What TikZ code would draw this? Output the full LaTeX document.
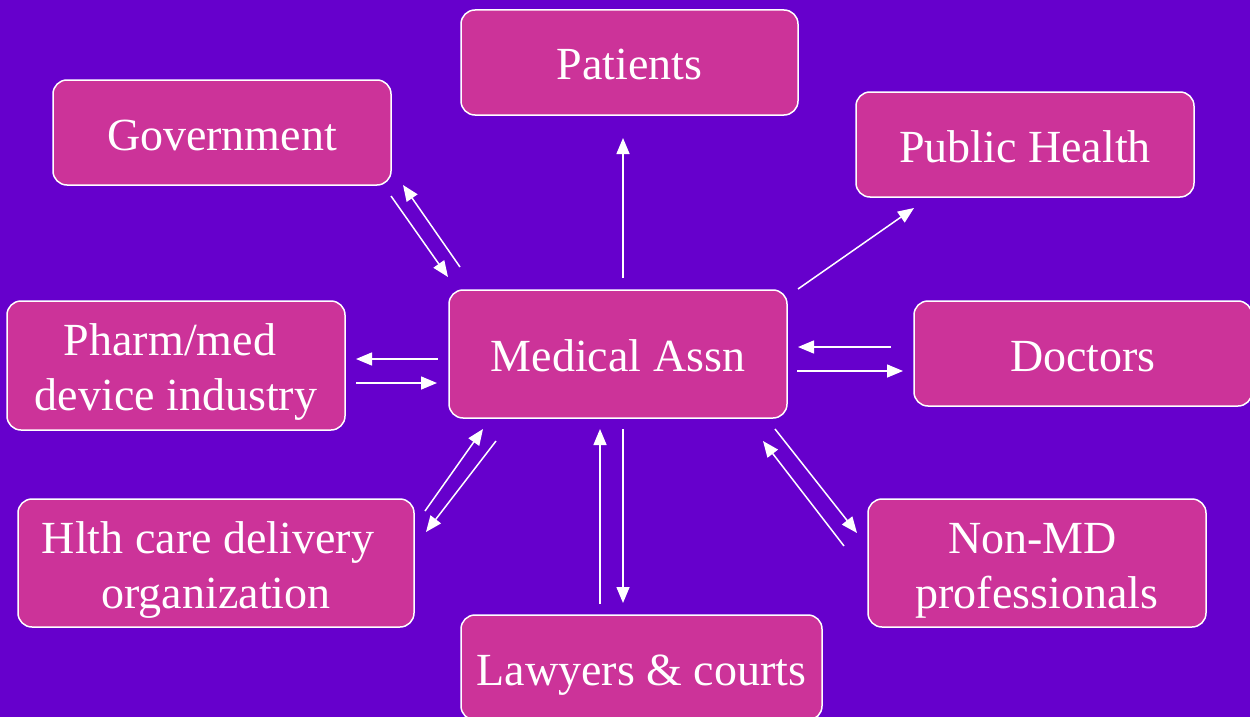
\documentclass[tikz,border=0pt]{standalone}
\usepackage{fontspec}
\setmainfont{Liberation Serif}
\usetikzlibrary{arrows.meta}
\definecolor{bgpurple}{HTML}{6600CC}
\definecolor{boxpink}{HTML}{CC3399}
\newcommand\onestrut{\rule[-12pt]{0pt}{59pt}}
\newcommand\topstrut{\rule{0pt}{47pt}}
\newcommand\botstrut{\rule[-12pt]{0pt}{12pt}}
\newcommand\padright[1]{\rule{#1}{0pt}}
\begin{document}
\begin{tikzpicture}[x=1pt,y=-1pt,
  boxnode/.style={draw=white,line width=1.5pt,fill=boxpink,rounded corners=14pt,
    text=white,align=center,inner sep=0pt,font=\fontsize{46}{55}\selectfont},
  conn/.style={draw=white,line width=1.5pt,-{Triangle[length=16pt,width=13pt]}}]
\useasboundingbox (0,0) rectangle (1250,717);
\fill[bgpurple] (0,0) rectangle (1250,717);
\node[boxnode,minimum width=337pt,minimum height=105pt] (pat) at (629.5,62.5) {\onestrut Patients};
\node[boxnode,minimum width=338pt,minimum height=105pt] (gov) at (222,132.5) {\onestrut Government};
\node[boxnode,minimum width=338pt,minimum height=105pt] (ph) at (1025,144.5) {\onestrut Public Health};
\node[boxnode,minimum width=338pt,minimum height=129pt] (pharm) at (176,365.5) {\topstrut Pharm/med\padright{12pt}\\device industry\botstrut};
\node[boxnode,minimum width=338pt,minimum height=128pt] (ma) at (618,354) {\onestrut Medical Assn};
\node[boxnode,minimum width=338pt,minimum height=105pt] (doc) at (1083,353.5) {\onestrut Doctors};
\node[boxnode,minimum width=396pt,minimum height=128pt] (hlth) at (216,563) {\topstrut Hlth care delivery\padright{16pt}\\organization\botstrut};
\node[boxnode,minimum width=338pt,minimum height=128pt] (nonmd) at (1037,563) {\topstrut Non-MD\padright{9pt}\\professionals\botstrut};
\node[boxnode,minimum width=361pt,minimum height=105pt] (law) at (641.5,667.5) {\onestrut Lawyers \& courts};
% connector end points
\coordinate (g1a) at (391,196); \coordinate (g1b) at (448,277);
\coordinate (g2a) at (460,267); \coordinate (g2b) at (403,185);
\coordinate (pa) at (623,278); \coordinate (pb) at (623,138);
\coordinate (pha) at (798,289); \coordinate (phb) at (914,208);
\coordinate (f1a) at (438,359); \coordinate (f1b) at (356,359);
\coordinate (f2a) at (356,383); \coordinate (f2b) at (437,383);
\coordinate (d1a) at (891,347); \coordinate (d1b) at (798,347);
\coordinate (d2a) at (797,371); \coordinate (d2b) at (903,371);
\coordinate (h1a) at (425,511); \coordinate (h1b) at (483,429);
\coordinate (h2a) at (496,441); \coordinate (h2b) at (426,532);
\coordinate (l1a) at (600,604); \coordinate (l1b) at (600,429);
\coordinate (l2a) at (623,429); \coordinate (l2b) at (623,603);
\coordinate (n1a) at (775,429); \coordinate (n1b) at (857,533);
\coordinate (n2a) at (844,546); \coordinate (n2b) at (763,441);
\draw[conn] (g1a) -- (g1b);
\draw[conn] (g2a) -- (g2b);
\draw[conn] (pa) -- (pb);
\draw[conn] (pha) -- (phb);
\draw[conn] (f1a) -- (f1b);
\draw[conn] (f2a) -- (f2b);
\draw[conn] (d1a) -- (d1b);
\draw[conn] (d2a) -- (d2b);
\draw[conn] (h1a) -- (h1b);
\draw[conn] (h2a) -- (h2b);
\draw[conn] (l1a) -- (l1b);
\draw[conn] (l2a) -- (l2b);
\draw[conn] (n1a) -- (n1b);
\draw[conn] (n2a) -- (n2b);
\end{tikzpicture}
\end{document}
